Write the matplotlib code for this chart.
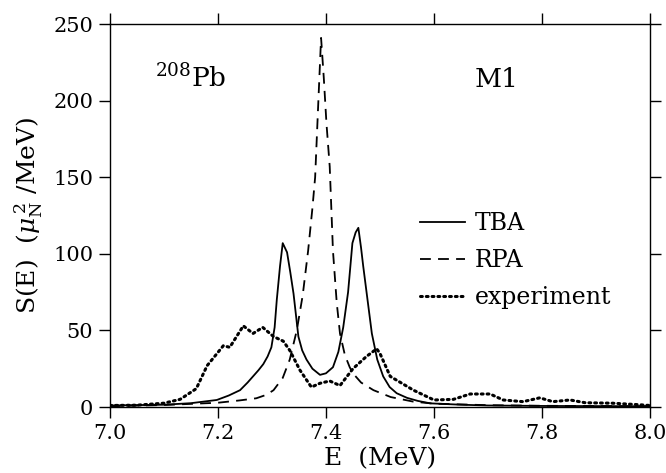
import numpy as np
import matplotlib
matplotlib.use('Agg')
import matplotlib.pyplot as plt

plt.rcParams['font.family'] = ['DejaVu Serif']
plt.rcParams['mathtext.fontset'] = 'dejavuserif'

# TBA (solid)
e_tba = [7.00, 7.10, 7.15, 7.198, 7.22, 7.241, 7.255, 7.265, 7.275, 7.284, 7.292, 7.299, 7.305,
         7.309, 7.315, 7.320, 7.328, 7.334, 7.340, 7.349, 7.356, 7.364, 7.375, 7.389, 7.40,
         7.413, 7.423, 7.432, 7.441, 7.449, 7.455, 7.460, 7.465, 7.469, 7.477, 7.485, 7.495,
         7.506, 7.518, 7.531, 7.55, 7.57, 7.593, 7.65, 7.70, 7.80, 8.00]
s_tba = [1.0, 1.5, 2.5, 4.6, 7.5, 11, 16, 20, 24, 28, 33, 39, 52,
         70, 92, 107, 101, 88, 74, 46, 37, 31, 25, 21, 22,
         26, 36, 52, 75, 107, 114, 117, 104, 92, 70, 48, 31,
         20, 13, 9, 6, 4, 2.4, 1.5, 1.0, 0.7, 0.5]

# RPA (dashed)
e_rpa = [7.00, 7.10, 7.20, 7.24, 7.271, 7.29, 7.303, 7.32, 7.333, 7.346, 7.357, 7.367, 7.375,
         7.380, 7.386, 7.391, 7.396, 7.401, 7.407, 7.413, 7.42, 7.426, 7.435, 7.444, 7.45,
         7.465, 7.488, 7.52, 7.562, 7.60, 7.70, 7.80, 8.00]
s_rpa = [0.5, 1.3, 2.8, 4.3, 5.7, 8, 11, 19, 31, 50, 73, 102, 130,
         150, 200, 241, 215, 185, 157, 102, 68, 48, 34, 26, 22,
         16, 11, 6.5, 3.5, 2.2, 1.2, 0.8, 0.5]

# experiment (dotted)
e_exp = [7.00, 7.05, 7.10, 7.13, 7.16, 7.18, 7.21, 7.222, 7.247, 7.265, 7.283, 7.303, 7.321,
         7.333, 7.352, 7.373, 7.389, 7.407, 7.426, 7.45, 7.475, 7.494, 7.50, 7.519, 7.562,
         7.60, 7.636, 7.667, 7.704, 7.728, 7.765, 7.796, 7.82, 7.852, 7.88, 7.93, 7.98, 8.00]
s_exp = [1, 1.2, 2.5, 5, 12, 27, 40, 39, 53, 48, 52, 46, 43,
         37, 24, 13, 15.5, 17, 14, 25, 33, 38, 35, 20, 11,
         4.6, 5, 8.5, 8.5, 4.6, 3.5, 6, 3.5, 4.6, 2.8, 2.5, 1.5, 1]

fig = plt.figure(figsize=(6.66, 4.73), dpi=100)
ax = fig.add_axes([0.165, 0.1395, 0.811, 0.8095])

ax.plot(e_tba, s_tba, color='black', lw=1.3, label='TBA')
ax.plot(e_rpa, s_rpa, color='black', lw=1.3, ls=(0, (6, 4)), label='RPA')
ax.plot(e_exp, s_exp, color='black', lw=2.2, ls=(0, (0.6, 1.3)),
        dash_capstyle='round', label='experiment')

ax.set_xlim(7.0, 8.0)
ax.set_ylim(0, 250)
ax.set_xticks([7.0, 7.2, 7.4, 7.6, 7.8, 8.0])
ax.set_xticklabels(['7.0', '7.2', '7.4', '7.6', '7.8', '8.0'])
ax.set_yticks([0, 50, 100, 150, 200, 250])
ax.tick_params(direction='out', length=8, width=1, labelsize=15,
               top=True, right=True, pad=4)
for s in ax.spines.values():
    s.set_linewidth(1)

ax.set_xlabel('E  (MeV)', fontsize=18, labelpad=3)
ax.set_ylabel(r'S(E)  ($\mu_{\rm N}^{\,2}$ /MeV)', fontsize=18, labelpad=6)

ax.text(0.083, 0.835, r'$^{208}$Pb', transform=ax.transAxes, fontsize=19)
ax.text(0.675, 0.835, 'M1', transform=ax.transAxes, fontsize=19)

ax.legend(loc='upper left', bbox_to_anchor=(0.535, 0.565), frameon=False,
          fontsize=17, handlelength=1.9, handletextpad=0.4, labelspacing=0.6)

plt.savefig('out.png', dpi=100)
